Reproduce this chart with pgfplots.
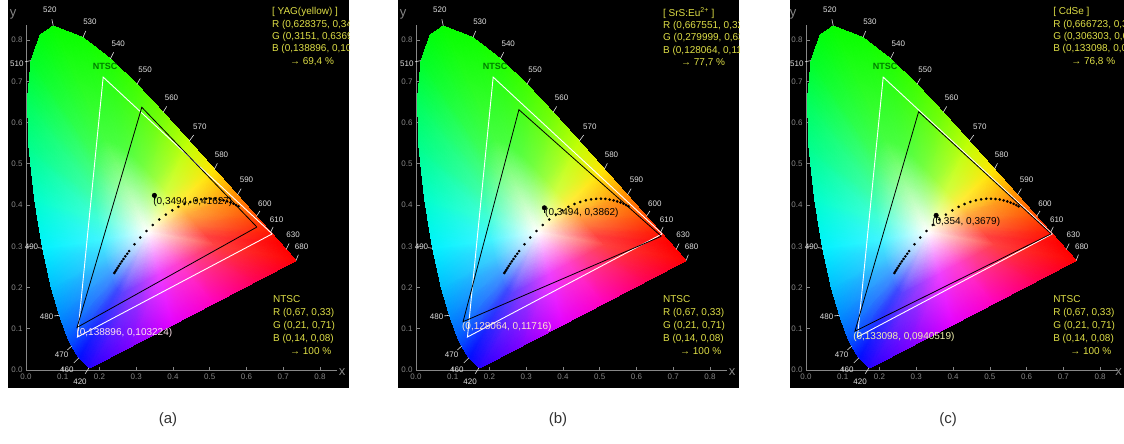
\documentclass[border=0pt]{standalone}
\usepackage{fontspec}
\setmainfont{Liberation Sans}
\usepackage{pgfplots}
\usepackage{pgfplotstable}
\pgfplotsset{compat=1.18}
\usetikzlibrary{calc}
\definecolor{ylw}{RGB}{222,222,70}
\definecolor{ntscgreen}{RGB}{0,125,0}
\definecolor{axgray}{RGB}{135,135,135}
\definecolor{wlgray}{RGB}{225,225,225}
\definecolor{labgray}{RGB}{50,50,50}
\definecolor{blaba}{RGB}{255,228,238}
\definecolor{blabb}{RGB}{255,228,205}
\definecolor{blabc}{RGB}{242,242,175}

\pgfplotstableread{
x y c
0.3333 0.3333 rgb=1,1,1
0.2617 0.1856 rgb=0.36,0.25,1
0.2481 0.1967 rgb=0.25,0.29,1
0.2617 0.1856 rgb=0.36,0.25,1
0.1741 0.0050 rgb=0.15,0,1
0.1440 0.0297 rgb=0,0.05,1
0.2617 0.1856 rgb=0.36,0.25,1
0.1440 0.0297 rgb=0,0.05,1
0.2481 0.1967 rgb=0.25,0.29,1
0.3333 0.3333 rgb=1,1,1
0.2481 0.1967 rgb=0.25,0.29,1
0.2392 0.2093 rgb=0.25,0.44,1
0.2481 0.1967 rgb=0.25,0.29,1
0.1440 0.0297 rgb=0,0.05,1
0.1241 0.0578 rgb=0,0.25,1
0.2481 0.1967 rgb=0.25,0.29,1
0.1241 0.0578 rgb=0,0.25,1
0.2392 0.2093 rgb=0.25,0.44,1
0.3333 0.3333 rgb=1,1,1
0.2392 0.2093 rgb=0.25,0.44,1
0.2327 0.2224 rgb=0.25,0.55,1
0.2392 0.2093 rgb=0.25,0.44,1
0.1241 0.0578 rgb=0,0.25,1
0.1096 0.0868 rgb=0,0.4,1
0.2392 0.2093 rgb=0.25,0.44,1
0.1096 0.0868 rgb=0,0.4,1
0.2327 0.2224 rgb=0.25,0.55,1
0.3333 0.3333 rgb=1,1,1
0.2327 0.2224 rgb=0.25,0.55,1
0.2244 0.2431 rgb=0.25,0.66,1
0.2327 0.2224 rgb=0.25,0.55,1
0.1096 0.0868 rgb=0,0.4,1
0.0913 0.1327 rgb=0,0.55,1
0.2327 0.2224 rgb=0.25,0.55,1
0.0913 0.1327 rgb=0,0.55,1
0.2244 0.2431 rgb=0.25,0.66,1
0.3333 0.3333 rgb=1,1,1
0.2244 0.2431 rgb=0.25,0.66,1
0.2142 0.2737 rgb=0.25,0.81,1
0.2244 0.2431 rgb=0.25,0.66,1
0.0913 0.1327 rgb=0,0.55,1
0.0687 0.2007 rgb=0,0.75,1
0.2244 0.2431 rgb=0.25,0.66,1
0.0687 0.2007 rgb=0,0.75,1
0.2142 0.2737 rgb=0.25,0.81,1
0.3333 0.3333 rgb=1,1,1
0.2142 0.2737 rgb=0.25,0.81,1
0.2038 0.3161 rgb=0.25,0.96,1
0.2142 0.2737 rgb=0.25,0.81,1
0.0687 0.2007 rgb=0,0.75,1
0.0454 0.2950 rgb=0,0.95,1
0.2142 0.2737 rgb=0.25,0.81,1
0.0454 0.2950 rgb=0,0.95,1
0.2038 0.3161 rgb=0.25,0.96,1
0.3333 0.3333 rgb=1,1,1
0.2038 0.3161 rgb=0.25,0.96,1
0.1939 0.3690 rgb=0.25,1,0.85
0.2038 0.3161 rgb=0.25,0.96,1
0.0454 0.2950 rgb=0,0.95,1
0.0235 0.4127 rgb=0,1,0.8
0.2038 0.3161 rgb=0.25,0.96,1
0.0235 0.4127 rgb=0,1,0.8
0.1939 0.3690 rgb=0.25,1,0.85
0.3333 0.3333 rgb=1,1,1
0.1939 0.3690 rgb=0.25,1,0.85
0.1870 0.4256 rgb=0.25,1,0.66
0.1939 0.3690 rgb=0.25,1,0.85
0.0235 0.4127 rgb=0,1,0.8
0.0082 0.5384 rgb=0,1,0.55
0.1939 0.3690 rgb=0.25,1,0.85
0.0082 0.5384 rgb=0,1,0.55
0.1870 0.4256 rgb=0.25,1,0.66
0.3333 0.3333 rgb=1,1,1
0.1870 0.4256 rgb=0.25,1,0.66
0.1851 0.4780 rgb=0.25,1,0.51
0.1870 0.4256 rgb=0.25,1,0.66
0.0082 0.5384 rgb=0,1,0.55
0.0039 0.6548 rgb=0,1,0.35
0.1870 0.4256 rgb=0.25,1,0.66
0.0039 0.6548 rgb=0,1,0.35
0.1851 0.4780 rgb=0.25,1,0.51
0.3333 0.3333 rgb=1,1,1
0.1851 0.4780 rgb=0.25,1,0.51
0.1896 0.5209 rgb=0.25,1,0.36
0.1851 0.4780 rgb=0.25,1,0.51
0.0039 0.6548 rgb=0,1,0.35
0.0139 0.7502 rgb=0,1,0.15
0.1851 0.4780 rgb=0.25,1,0.51
0.0139 0.7502 rgb=0,1,0.15
0.1896 0.5209 rgb=0.25,1,0.36
0.3333 0.3333 rgb=1,1,1
0.1896 0.5209 rgb=0.25,1,0.36
0.2008 0.5487 rgb=0.25,1,0.29
0.1896 0.5209 rgb=0.25,1,0.36
0.0139 0.7502 rgb=0,1,0.15
0.0389 0.8120 rgb=0,1,0.05
0.1896 0.5209 rgb=0.25,1,0.36
0.0389 0.8120 rgb=0,1,0.05
0.2008 0.5487 rgb=0.25,1,0.29
0.3333 0.3333 rgb=1,1,1
0.2008 0.5487 rgb=0.25,1,0.29
0.2168 0.5585 rgb=0.27,1,0.25
0.2008 0.5487 rgb=0.25,1,0.29
0.0389 0.8120 rgb=0,1,0.05
0.0743 0.8338 rgb=0.02,1,0
0.2008 0.5487 rgb=0.25,1,0.29
0.0743 0.8338 rgb=0.02,1,0
0.2168 0.5585 rgb=0.27,1,0.25
0.3333 0.3333 rgb=1,1,1
0.2168 0.5585 rgb=0.27,1,0.25
0.2530 0.5460 rgb=0.29,1,0.25
0.2168 0.5585 rgb=0.27,1,0.25
0.0743 0.8338 rgb=0.02,1,0
0.1547 0.8059 rgb=0.05,1,0
0.2168 0.5585 rgb=0.27,1,0.25
0.1547 0.8059 rgb=0.05,1,0
0.2530 0.5460 rgb=0.29,1,0.25
0.3333 0.3333 rgb=1,1,1
0.2530 0.5460 rgb=0.29,1,0.25
0.2867 0.5228 rgb=0.34,1,0.25
0.2530 0.5460 rgb=0.29,1,0.25
0.1547 0.8059 rgb=0.05,1,0
0.2296 0.7543 rgb=0.12,1,0
0.2530 0.5460 rgb=0.29,1,0.25
0.2296 0.7543 rgb=0.12,1,0
0.2867 0.5228 rgb=0.34,1,0.25
0.3333 0.3333 rgb=1,1,1
0.2867 0.5228 rgb=0.34,1,0.25
0.3191 0.4949 rgb=0.44,1,0.25
0.2867 0.5228 rgb=0.34,1,0.25
0.2296 0.7543 rgb=0.12,1,0
0.3016 0.6923 rgb=0.25,1,0
0.2867 0.5228 rgb=0.34,1,0.25
0.3016 0.6923 rgb=0.25,1,0
0.3191 0.4949 rgb=0.44,1,0.25
0.3333 0.3333 rgb=1,1,1
0.3191 0.4949 rgb=0.44,1,0.25
0.3512 0.4644 rgb=0.59,1,0.25
0.3191 0.4949 rgb=0.44,1,0.25
0.3016 0.6923 rgb=0.25,1,0
0.3731 0.6245 rgb=0.45,1,0
0.3191 0.4949 rgb=0.44,1,0.25
0.3731 0.6245 rgb=0.45,1,0
0.3512 0.4644 rgb=0.59,1,0.25
0.3333 0.3333 rgb=1,1,1
0.3512 0.4644 rgb=0.59,1,0.25
0.3832 0.4330 rgb=0.81,1,0.25
0.3512 0.4644 rgb=0.59,1,0.25
0.3731 0.6245 rgb=0.45,1,0
0.4441 0.5547 rgb=0.75,1,0
0.3512 0.4644 rgb=0.59,1,0.25
0.4441 0.5547 rgb=0.75,1,0
0.3832 0.4330 rgb=0.81,1,0.25
0.3333 0.3333 rgb=1,1,1
0.3832 0.4330 rgb=0.81,1,0.25
0.4140 0.4023 rgb=1,0.93,0.25
0.3832 0.4330 rgb=0.81,1,0.25
0.4441 0.5547 rgb=0.75,1,0
0.5125 0.4866 rgb=1,0.9,0
0.3832 0.4330 rgb=0.81,1,0.25
0.5125 0.4866 rgb=1,0.9,0
0.4140 0.4023 rgb=1,0.93,0.25
0.3333 0.3333 rgb=1,1,1
0.4140 0.4023 rgb=1,0.93,0.25
0.4422 0.3742 rgb=1,0.66,0.25
0.4140 0.4023 rgb=1,0.93,0.25
0.5125 0.4866 rgb=1,0.9,0
0.5752 0.4242 rgb=1,0.55,0
0.4140 0.4023 rgb=1,0.93,0.25
0.5752 0.4242 rgb=1,0.55,0
0.4422 0.3742 rgb=1,0.66,0.25
0.3333 0.3333 rgb=1,1,1
0.4422 0.3742 rgb=1,0.66,0.25
0.4655 0.3510 rgb=1,0.48,0.25
0.4422 0.3742 rgb=1,0.66,0.25
0.5752 0.4242 rgb=1,0.55,0
0.6270 0.3725 rgb=1,0.3,0
0.4422 0.3742 rgb=1,0.66,0.25
0.6270 0.3725 rgb=1,0.3,0
0.4655 0.3510 rgb=1,0.48,0.25
0.3333 0.3333 rgb=1,1,1
0.4655 0.3510 rgb=1,0.48,0.25
0.4829 0.3336 rgb=1,0.33,0.25
0.4655 0.3510 rgb=1,0.48,0.25
0.6270 0.3725 rgb=1,0.3,0
0.6658 0.3340 rgb=1,0.1,0
0.4655 0.3510 rgb=1,0.48,0.25
0.6658 0.3340 rgb=1,0.1,0
0.4829 0.3336 rgb=1,0.33,0.25
0.3333 0.3333 rgb=1,1,1
0.4829 0.3336 rgb=1,0.33,0.25
0.4945 0.3221 rgb=1,0.25,0.25
0.4829 0.3336 rgb=1,0.33,0.25
0.6658 0.3340 rgb=1,0.1,0
0.6915 0.3083 rgb=1,0,0
0.4829 0.3336 rgb=1,0.33,0.25
0.6915 0.3083 rgb=1,0,0
0.4945 0.3221 rgb=1,0.25,0.25
0.3333 0.3333 rgb=1,1,1
0.4945 0.3221 rgb=1,0.25,0.25
0.5069 0.3097 rgb=1,0.25,0.25
0.4945 0.3221 rgb=1,0.25,0.25
0.6915 0.3083 rgb=1,0,0
0.7190 0.2809 rgb=1,0,0
0.4945 0.3221 rgb=1,0.25,0.25
0.7190 0.2809 rgb=1,0,0
0.5069 0.3097 rgb=1,0.25,0.25
0.3333 0.3333 rgb=1,1,1
0.5069 0.3097 rgb=1,0.25,0.25
0.5140 0.3027 rgb=1,0.25,0.25
0.5069 0.3097 rgb=1,0.25,0.25
0.7190 0.2809 rgb=1,0,0
0.7347 0.2653 rgb=1,0,0
0.5069 0.3097 rgb=1,0.25,0.25
0.7347 0.2653 rgb=1,0,0
0.5140 0.3027 rgb=1,0.25,0.25
0.3333 0.3333 rgb=1,1,1
0.5140 0.3027 rgb=1,0.25,0.25
0.4635 0.2793 rgb=1,0.25,0.51
0.5140 0.3027 rgb=1,0.25,0.25
0.7347 0.2653 rgb=1,0,0
0.6226 0.2132 rgb=1,0,0.35
0.5140 0.3027 rgb=1,0.25,0.25
0.6226 0.2132 rgb=1,0,0.35
0.4635 0.2793 rgb=1,0.25,0.51
0.3333 0.3333 rgb=1,1,1
0.4635 0.2793 rgb=1,0.25,0.51
0.4131 0.2559 rgb=1,0.25,0.81
0.4635 0.2793 rgb=1,0.25,0.51
0.6226 0.2132 rgb=1,0,0.35
0.5105 0.1612 rgb=1,0,0.75
0.4635 0.2793 rgb=1,0.25,0.51
0.5105 0.1612 rgb=1,0,0.75
0.4131 0.2559 rgb=1,0.25,0.81
0.3333 0.3333 rgb=1,1,1
0.4131 0.2559 rgb=1,0.25,0.81
0.3626 0.2324 rgb=0.93,0.25,1
0.4131 0.2559 rgb=1,0.25,0.81
0.5105 0.1612 rgb=1,0,0.75
0.3983 0.1091 rgb=0.9,0,1
0.4131 0.2559 rgb=1,0.25,0.81
0.3983 0.1091 rgb=0.9,0,1
0.3626 0.2324 rgb=0.93,0.25,1
0.3333 0.3333 rgb=1,1,1
0.3626 0.2324 rgb=0.93,0.25,1
0.3121 0.2090 rgb=0.63,0.25,1
0.3626 0.2324 rgb=0.93,0.25,1
0.3983 0.1091 rgb=0.9,0,1
0.2862 0.0571 rgb=0.5,0,1
0.3626 0.2324 rgb=0.93,0.25,1
0.2862 0.0571 rgb=0.5,0,1
0.3121 0.2090 rgb=0.63,0.25,1
0.3333 0.3333 rgb=1,1,1
0.3121 0.2090 rgb=0.63,0.25,1
0.2617 0.1856 rgb=0.36,0.25,1
0.3121 0.2090 rgb=0.63,0.25,1
0.2862 0.0571 rgb=0.5,0,1
0.1741 0.0050 rgb=0.15,0,1
0.3121 0.2090 rgb=0.63,0.25,1
0.1741 0.0050 rgb=0.15,0,1
0.2617 0.1856 rgb=0.36,0.25,1
}\horse

\newcommand\wlf{\fontsize{8}{9.5}\selectfont}
\newcommand\lab{\fontsize{10}{12}\selectfont}
\newcommand\wl[5]{%
  \draw[wlgray,line width=0.6pt] (axis cs:#1,#2) -- ($(axis cs:#1,#2)!0.42!(axis cs:#3,#4)$);
  \node[text=wlgray,font=\wlf,inner sep=0pt] at (axis cs:#3,#4) {#5};}

\newcommand\common{%
  \draw[axgray,line width=0.7pt] (axis cs:0,0) -- (axis cs:0.845,0);
  \draw[axgray,line width=0.7pt] (axis cs:0,0) -- (axis cs:0,0.836);
  \addplot[patch,shader=interp,mesh/color input=explicit,point meta=explicit symbolic]
    table[x=x,y=y,meta=c] {\horse};
  \addplot[white,line width=0.9pt,line join=miter] coordinates {(0.67,0.33)(0.21,0.71)(0.14,0.08)(0.67,0.33)};
  \addplot[only marks,mark=*,mark size=1.1pt,black] coordinates {
    (0.2404,0.2351)(0.2428,0.2387)(0.2457,0.2427)(0.2489,0.2473)(0.2525,0.2523)
    (0.2564,0.2576)(0.2607,0.2633)(0.2653,0.2693)(0.2701,0.2755)(0.2753,0.2818)
    (0.2807,0.2883)(0.2952,0.3048)(0.3110,0.3212)(0.3277,0.3369)(0.3450,0.3516)
    (0.3627,0.3649)(0.3805,0.3767)(0.3980,0.3870)(0.4149,0.3955)(0.4313,0.4023)
    (0.4470,0.4075)(0.4621,0.4113)(0.4765,0.4137)(0.4902,0.4150)(0.5032,0.4153)
    (0.5154,0.4147)(0.5269,0.4133)(0.5376,0.4112)(0.5475,0.4087)(0.5565,0.4059)
    (0.5647,0.4029)(0.5720,0.3998)(0.5783,0.3969)};
  \node[font=\bfseries\fontsize{9}{10}\selectfont,text=ntscgreen] at (axis cs:0.215,0.735) {NTSC};
  \wl{0.0743}{0.8338}{0.065}{0.873}{520}
  \wl{0.1547}{0.8059}{0.174}{0.844}{530}
  \wl{0.2296}{0.7543}{0.251}{0.792}{540}
  \wl{0.3016}{0.6923}{0.324}{0.727}{550}
  \wl{0.3731}{0.6245}{0.396}{0.659}{560}
  \wl{0.4441}{0.5547}{0.473}{0.590}{570}
  \wl{0.5125}{0.4866}{0.532}{0.521}{580}
  \wl{0.5752}{0.4242}{0.600}{0.461}{590}
  \wl{0.6270}{0.3725}{0.650}{0.404}{600}
  \wl{0.6658}{0.3340}{0.682}{0.365}{610}
  \wl{0.7079}{0.2920}{0.727}{0.327}{630}
  \wl{0.7347}{0.2653}{0.750}{0.299}{680}
  \wl{0.0139}{0.7502}{-0.025}{0.743}{510}
  \wl{0.0454}{0.2950}{0.015}{0.299}{490}
  \wl{0.0913}{0.1327}{0.056}{0.129}{480}
  \wl{0.1241}{0.0578}{0.097}{0.036}{470}
  \wl{0.1440}{0.0297}{0.111}{0.000}{460}
  \wl{0.1714}{0.0051}{0.147}{-0.028}{420}
  \node[text=axgray,font=\fontsize{13}{13}\selectfont] at (axis cs:-0.035,0.862) {y};
  \node[text=ylw,font=\fontsize{10}{12.8}\selectfont,align=left,inner sep=0pt,anchor=north west]
    at (axis cs:0.672,0.180) {NTSC\\R (0,67, 0,33)\\G (0,21, 0,71)\\B (0,14, 0,08)\\\hspace*{17pt}→ 100 \%};
}

\pgfplotsset{cie/.style={
  scale only axis, height=388pt, anchor=south west,
  ymin=-0.0436, ymax=0.897,
  axis background/.style={fill=black},
  axis lines=middle, axis line style={draw=none},
  hide obscured x ticks=false, hide obscured y ticks=false,
  xtick={0,0.1,0.2,0.3,0.4,0.5,0.6,0.7,0.8},
  xticklabels={0.0,0.1,0.2,0.3,0.4,0.5,0.6,0.7,0.8},
  ytick={0,0.1,0.2,0.3,0.4,0.5,0.6,0.7,0.8},
  yticklabels={0.0,0.1,0.2,0.3,0.4,0.5,0.6,0.7,0.8},
  tick align=inside, major tick length=3.5pt,
  tick style={draw=axgray,line width=0.6pt},
  ticklabel style={font=\wlf,text=axgray},
  /pgf/number format/assume math mode=true,
  clip=true,
}}

\begin{document}
\begin{tikzpicture}
\path[use as bounding box] (0,0) rectangle (1124pt,444pt);
% (a)
\begin{axis}[cie, at={(8pt,56pt)}, width=341pt, xmin=-0.049, xmax=0.879]
\common
\addplot[black,line width=0.8pt,line join=miter] coordinates {(0.628375,0.3466)(0.3151,0.6369)(0.138896,0.103224)(0.628375,0.3466)};
\addplot[black,line width=0.8pt] coordinates {(0.3494,0.4233)(0.3494,0.411)};
\addplot[only marks,mark=*,mark size=2.3pt,black] coordinates {(0.3494,0.4233)};
\node[anchor=west,font=\lab,inner sep=0pt] at (axis cs:0.346,0.407) {(0,3494, 0,41627)};
\node[anchor=west,font=\lab,inner sep=0pt,text=blaba] at (axis cs:0.137,0.091) {(0,138896, 0,103224)};
\node[text=ylw,font=\fontsize{10}{12.3}\selectfont,align=left,inner sep=0pt,anchor=north west]
  at (axis cs:0.669,0.879) {[ YAG(yellow) ]\\R (0,628375, 0,346617)\\G (0,3151, 0,636942)\\B (0,138896, 0,103224)\\\hspace*{18pt}→ 69,4 \%};
\node[text=axgray,font=\fontsize{13}{13}\selectfont] at (axis cs:0.86,-0.006) {x};
\end{axis}
% (b)
\begin{axis}[cie, at={(398pt,56pt)}, width=341pt, xmin=-0.049, xmax=0.879]
\common
\addplot[black,line width=0.8pt,line join=miter] coordinates {(0.667551,0.3242)(0.279999,0.631)(0.128064,0.11716)(0.667551,0.3242)};
\addplot[black,line width=0.8pt] coordinates {(0.3494,0.3932)(0.3494,0.381)};
\addplot[only marks,mark=*,mark size=2.3pt,black] coordinates {(0.3494,0.3932)};
\node[anchor=west,font=\lab,inner sep=0pt] at (axis cs:0.351,0.380) {(0,3494, 0,3862)};
\node[anchor=west,font=\lab,inner sep=0pt,text=blabb] at (axis cs:0.125,0.104) {(0,128064, 0,11716)};
\node[text=ylw,font=\fontsize{10}{12.3}\selectfont,align=left,inner sep=0pt,anchor=north west]
  at (axis cs:0.672,0.879) {[ SrS:Eu\textsuperscript{2+} ]\\R (0,667551, 0,324233)\\G (0,279999, 0,631021)\\B (0,128064, 0,11716)\\\hspace*{18pt}→ 77,7 \%};
\node[text=axgray,font=\fontsize{13}{13}\selectfont] at (axis cs:0.86,-0.006) {x};
\end{axis}
% (c)
\begin{axis}[cie, at={(790pt,56pt)}, width=334pt, xmin=-0.0435, xmax=0.865]
\common
\addplot[black,line width=0.8pt,line join=miter] coordinates {(0.666723,0.3301)(0.306303,0.6261)(0.133098,0.0940519)(0.666723,0.3301)};
\addplot[black,line width=0.8pt] coordinates {(0.354,0.3749)(0.354,0.363)};
\addplot[only marks,mark=*,mark size=2.3pt,black] coordinates {(0.354,0.3749)};
\node[anchor=west,font=\lab,inner sep=0pt] at (axis cs:0.343,0.359) {(0,354, 0,3679)};
\node[anchor=west,font=\lab,inner sep=0pt,text=blabc] at (axis cs:0.128,0.081) {(0,133098, 0,0940519)};
\node[text=ylw,font=\fontsize{10}{12.3}\selectfont,align=left,inner sep=0pt,anchor=north west]
  at (axis cs:0.672,0.879) {[ CdSe ]\\R (0,666723, 0,330118)\\G (0,306303, 0,626114)\\B (0,133098, 0,0940519)\\\hspace*{18pt}→ 76,8 \%};
\node[text=axgray,font=\fontsize{13}{13}\selectfont] at (axis cs:0.85,-0.006) {x};
\end{axis}
\node[text=labgray,font=\fontsize{15}{17}\selectfont] at (168pt,24pt) {(a)};
\node[text=labgray,font=\fontsize{15}{17}\selectfont] at (558pt,24pt) {(b)};
\node[text=labgray,font=\fontsize{15}{17}\selectfont] at (948pt,24pt) {(c)};
\end{tikzpicture}
\end{document}
